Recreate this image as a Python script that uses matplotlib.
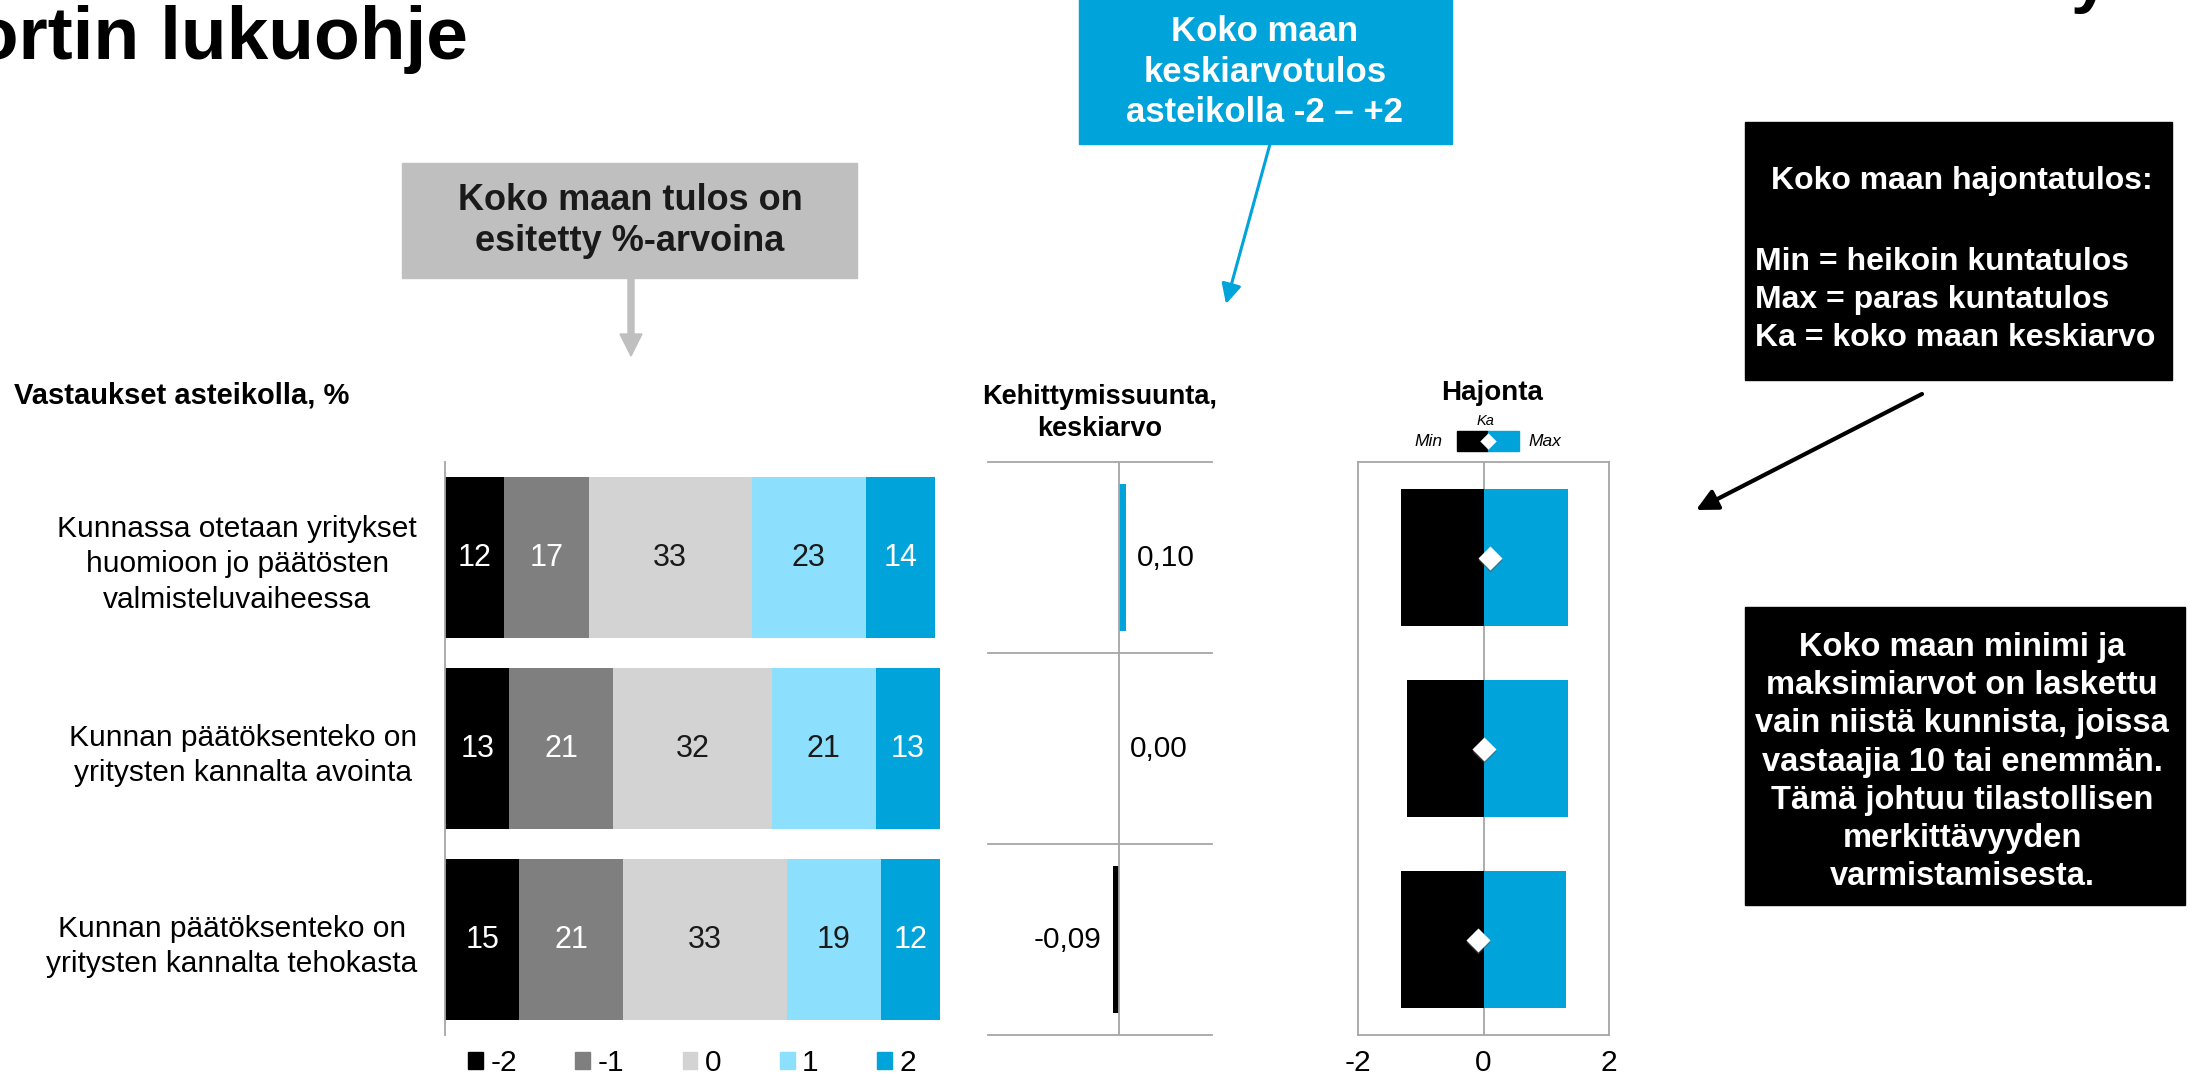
import matplotlib
matplotlib.use("Agg")
import matplotlib.pyplot as plt
from matplotlib.patches import Patch, Rectangle, FancyArrow

plt.rcParams["font.family"] = ["Liberation Sans", "DejaVu Sans"]
plt.rcParams["axes.unicode_minus"] = False

# data
categories = [
    "Kunnassa otetaan yritykset\nhuomioon jo päätösten\nvalmisteluvaiheessa",
    "Kunnan päätöksenteko on\nyritysten kannalta avointa",
    "Kunnan päätöksenteko on\nyritysten kannalta tehokasta",
]
scale_labels = ["-2", "-1", "0", "1", "2"]
share_m2 = [12, 13, 15]
share_m1 = [17, 21, 21]
share_0 = [33, 32, 33]
share_p1 = [23, 21, 19]
share_p2 = [14, 13, 12]
mean_values = [0.10, 0.00, -0.09]
min_values = [-1.32, -1.22, -1.32]
max_values = [1.35, 1.35, 1.32]

colors = ["#000000", "#7F7F7F", "#D3D3D3", "#8DE0FD", "#00A3DA"]
text_colors = ["white", "white", "#1A1A1A", "#1A1A1A", "white"]
BLUE = "#00A3DA"
LINE = "#A6A6A6"

W, H = 2189, 1081
fig = plt.figure(figsize=(W / 100, H / 100), dpi=100)


def box(left, right, top, bottom):
    return [left / W, 1 - bottom / H, (right - left) / W, (bottom - top) / H]


rows = list(range(len(categories)))

# stacked bars
ax = fig.add_axes(box(445, 940, 462, 1035))
shares = [share_m2, share_m1, share_0, share_p1, share_p2]
left = [0] * len(categories)
for k, vals in enumerate(shares):
    ax.barh(rows, vals, left=left, height=0.84, color=colors[k], label=scale_labels[k])
    for r, v in enumerate(vals):
        ax.text(left[r] + v / 2, r, f"{v}", ha="center", va="center",
                fontsize=22, color=text_colors[k])
    left = [a + b for a, b in zip(left, vals)]
ax.set_xlim(0, 100)
ax.set_ylim(2.5, -0.5)
ax.set_yticks(rows)
ax.set_yticklabels(categories, fontsize=21.5, linespacing=1.35)
for lab in ax.get_yticklabels():
    lab.set_multialignment("center")
ax.tick_params(axis="y", length=0, pad=20)
ax.set_xticks([])
for s in ["top", "right", "bottom"]:
    ax.spines[s].set_visible(False)
ax.spines["left"].set_color(LINE)
ax.spines["left"].set_linewidth(1.3)

handles = [Patch(color=c, label=l) for c, l in zip(colors, scale_labels)]
fig.legend(handles=handles, loc="center left", bbox_to_anchor=(468 / W, 1 - 1063 / H),
           ncol=5, frameon=False, fontsize=21.5, handlelength=0.5, handleheight=0.5,
           handletextpad=0.25, columnspacing=1.95, borderpad=0, borderaxespad=0)

# development direction (mean)
ax2 = fig.add_axes(box(988, 1212, 462, 1035))
ax2.barh(rows, mean_values, height=0.77,
         color=[BLUE if v > 0 else "#000000" for v in mean_values])
ax2.set_xlim(-1.93, 1.37)
ax2.set_ylim(2.5, -0.5)
ax2.axis("off")
for yb in [-0.5, 0.5, 1.5, 2.5]:
    ax2.axhline(yb, color=LINE, lw=1.3, clip_on=False)
ax2.axvline(0, color=LINE, lw=1.3)
for r, v in enumerate(mean_values):
    txt = f"{v:.2f}".replace(".", ",")
    if v < 0:
        ax2.annotate(txt, (v, r), xytext=(-8, 0), textcoords="offset points",
                     ha="right", va="center", fontsize=21.5)
    else:
        ax2.annotate(txt, (v, r), xytext=(8, 0), textcoords="offset points",
                     ha="left", va="center", fontsize=21.5)

# spread
ax3 = fig.add_axes(box(1358, 1609, 462, 1035))
ax3.axvline(0, color=LINE, lw=1.3, zorder=0.5)
ax3.barh(rows, min_values, height=0.72, color="#000000", zorder=2)
ax3.barh(rows, max_values, height=0.72, color=BLUE, zorder=2)
ax3.scatter(mean_values, [r + 0.012 for r in rows], marker="D", s=150,
            color="#555555", alpha=0.5, linewidths=0, zorder=3)
ax3.scatter(mean_values, rows, marker="D", s=150, color="white", linewidths=0, zorder=4)
ax3.set_xlim(-2, 2)
ax3.set_ylim(2.5, -0.5)
ax3.set_xticks([-2, 0, 2])
ax3.set_yticks([])
ax3.tick_params(axis="x", length=0, pad=10, labelsize=21.5)
for s in ax3.spines.values():
    s.set_color(LINE)
    s.set_linewidth(1.3)

# overlay for headings, notes and arrows
ov = fig.add_axes([0, 0, 1, 1], facecolor="none")
ov.set_xlim(0, W)
ov.set_ylim(H, 0)
ov.axis("off")

ov.text(468, 59, "Raportin lukuohje", ha="right", va="baseline",
        fontsize=54, fontweight="bold")
ov.text(2070, 0, "y", ha="left", va="baseline", fontsize=50, fontweight="bold")

ov.text(14, 403, "Vastaukset asteikolla, %", ha="left", va="baseline",
        fontsize=21, fontweight="bold")
ov.text(1100, 413, "Kehittymissuunta,\nkeskiarvo", ha="center", va="center",
        fontsize=19.5, fontweight="bold", linespacing=1.3)
ov.text(1492, 393, "Hajonta", ha="center", va="center", fontsize=20, fontweight="bold")

# small key above spread panel
ov.add_patch(Rectangle((1457, 431), 31, 20, color="#000000"))
ov.add_patch(Rectangle((1488, 431), 31, 20, color=BLUE))
ov.scatter([1488], [441], marker="D", s=70, color="white", linewidths=0)
ov.text(1442, 441, "Min", ha="right", va="center", fontsize=12.5, style="italic")
ov.text(1528, 441, "Max", ha="left", va="center", fontsize=12.5, style="italic")
ov.text(1485, 421, "Ka", ha="center", va="center", fontsize=10.5, style="italic")

# grey note
ov.add_patch(Rectangle((402, 163), 455, 115, color="#BFBFBF"))
ov.text(630, 221, "Koko maan tulos on\nesitetty %-arvoina", ha="center", va="center",
        fontsize=26, fontweight="bold", color="#1A1A1A", linespacing=1.25)
ov.add_patch(FancyArrow(631, 278, 0, 78, width=6, head_width=22, head_length=22,
                        length_includes_head=True, color="#BFBFBF"))

# blue note
ov.add_patch(Rectangle((1079, -5), 373, 149, color=BLUE))
ov.text(1265, 72, "Koko maan\nkeskiarvotulos\nasteikolla -2 – +2", ha="center", va="center",
        fontsize=25, fontweight="bold", color="white", linespacing=1.3)
ov.annotate("", xy=(1226, 304), xytext=(1270, 144),
            arrowprops=dict(arrowstyle="-|>", color=BLUE, lw=2.2, mutation_scale=30,
                            shrinkA=0, shrinkB=0))

# black notes
ov.add_patch(Rectangle((1745, 122), 427, 258, color="#000000"))
ov.text(1962, 189, "Koko maan hajontatulos:", ha="center", va="baseline",
        fontsize=23, fontweight="bold", color="white")
for yb, line in zip([270, 308, 346], ["Min = heikoin kuntatulos",
                                       "Max = paras kuntatulos",
                                       "Ka = koko maan keskiarvo"]):
    ov.text(1755, yb, line, ha="left", va="baseline", fontsize=23,
            fontweight="bold", color="white")
ov.annotate("", xy=(1696, 510), xytext=(1922, 394),
            arrowprops=dict(arrowstyle="-|>", color="#000000", lw=3, mutation_scale=32,
                            shrinkA=0, shrinkB=0))

ov.add_patch(Rectangle((1745, 607), 440, 298, color="#000000"))
ov.text(1962, 762, "Koko maan minimi ja\nmaksimiarvot on laskettu\nvain niistä kunnista, joissa\n"
        "vastaajia 10 tai enemmän.\nTämä johtuu tilastollisen\nmerkittävyyden\nvarmistamisesta.",
        ha="center", va="center", fontsize=23.5, fontweight="bold", color="white",
        linespacing=1.3)

fig.savefig("out.png", dpi=100)
